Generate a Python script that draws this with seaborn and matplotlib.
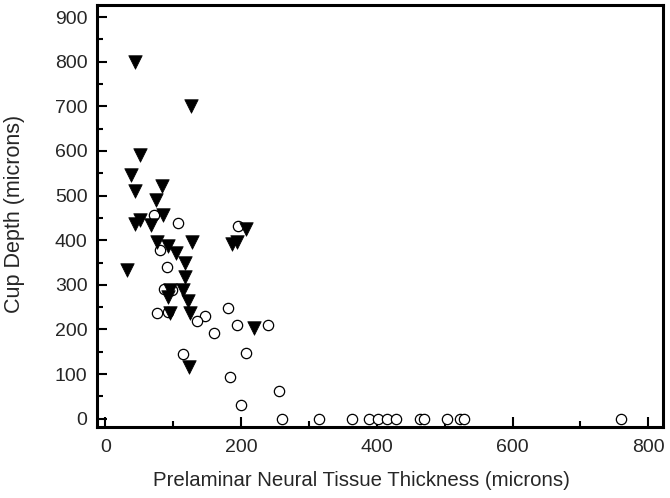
import matplotlib
matplotlib.use("Agg")
import matplotlib.pyplot as plt
import numpy as np
import pandas as pd
import seaborn as sns
from matplotlib.ticker import MultipleLocator

# filled triangles
tri_x = [44, 126, 51, 38, 44, 84, 74, 85, 51, 44, 68, 76, 93, 104, 128, 187, 194,
         207, 118, 32, 118, 115, 96, 92, 122, 125, 96, 219, 124]
tri_y = [800, 700, 592, 545, 511, 522, 491, 457, 446, 437, 435, 395, 386, 372, 397,
         392, 395, 426, 350, 334, 318, 289, 289, 273, 263, 238, 238, 204, 117]

# open circles
circ_x = [72, 107, 195, 80, 91, 86, 98, 76, 92, 147, 135, 181, 194, 240, 160, 115,
          207, 184, 256, 200,
          261, 315, 363, 389, 401, 415, 428, 463, 470, 503, 523, 529, 760]
circ_y = [457, 439, 431, 379, 341, 291, 289, 238, 240, 231, 220, 248, 211, 211, 193,
          146, 148, 94, 63, 31,
          0, 0, 0, 0, 0, 0, 0, 0, 0, 0, 0, 0, 0]

tri = pd.DataFrame({"x": tri_x, "y": tri_y})
circ = pd.DataFrame({"x": circ_x, "y": circ_y})

sns.set_style("ticks")
plt.rcParams["font.family"] = ["Liberation Sans", "DejaVu Sans"]

fig = plt.figure(figsize=(6.7, 4.98), dpi=100)
ax = fig.add_axes([0.145, 0.143, 0.845, 0.847])

sns.scatterplot(data=circ, x="x", y="y", marker="o", s=55, facecolor="white",
                edgecolor="black", linewidth=0.9, ax=ax, zorder=2)
sns.scatterplot(data=tri, x="x", y="y", marker="v", s=95, color="black",
                edgecolor="black", linewidth=0.5, ax=ax, zorder=3)

ax.set_xlim(-12, 822)
ax.set_ylim(-18, 927)
ax.xaxis.set_major_locator(MultipleLocator(200))
ax.xaxis.set_minor_locator(MultipleLocator(100))
ax.yaxis.set_major_locator(MultipleLocator(100))
ax.yaxis.set_minor_locator(MultipleLocator(50))
ax.tick_params(which="both", direction="in", width=1.5, labelsize=14, color="black")
ax.tick_params(which="major", length=7, pad=7)
ax.tick_params(axis="x", which="major", pad=9)
ax.tick_params(which="minor", length=4)
for sp in ax.spines.values():
    sp.set_linewidth(2.2)
    sp.set_color("black")

ax.set_xlabel("Prelaminar Neural Tissue Thickness (microns)", fontsize=14.7)
ax.set_ylabel("Cup Depth (microns)", fontsize=15.5)
# labels sit a bit off-centre in the original
ax.xaxis.set_label_coords(0.466, -0.105)
ax.yaxis.set_label_coords(-0.127, 0.505)

fig.savefig("out.png", dpi=100)
